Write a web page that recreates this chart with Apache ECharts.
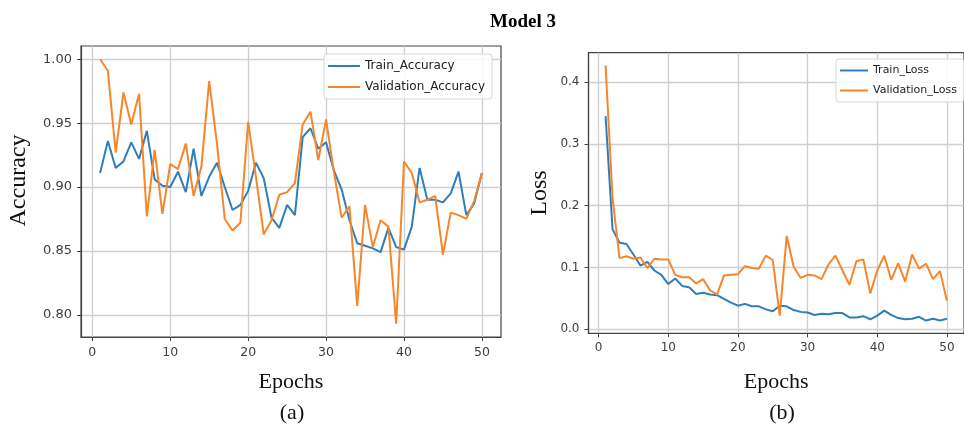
<!DOCTYPE html>
<html lang="en" style="height: 100%">
<head>
  <meta charset="utf-8">
</head>
<body style="height: 100%; margin: 0; background: #fff">
  <div id="container" style="width: 964px; height: 427px"></div>

  <script type="text/javascript" src="https://cdn.jsdelivr.net/npm/echarts@6/dist/echarts.min.js"></script>

  <script type="text/javascript">
    var dom = document.getElementById('container');
    var myChart = echarts.init(dom, null, { renderer: 'canvas' });

    const epochTicks = [0, 10, 20, 30, 40, 50];
    const accTicks = [0.8, 0.85, 0.9, 0.95, 1.0];
    const lossTicks = [0.0, 0.1, 0.2, 0.3, 0.4];

    const trainAcc = [0.911, 0.936, 0.915, 0.920, 0.935, 0.922, 0.944, 0.906, 0.901, 0.900,
      0.912, 0.896, 0.930, 0.893, 0.908, 0.919, 0.900, 0.882, 0.886, 0.897,
      0.919, 0.907, 0.876, 0.868, 0.886, 0.878, 0.939, 0.946, 0.930, 0.935,
      0.913, 0.898, 0.874, 0.856, 0.854, 0.852, 0.849, 0.868, 0.853, 0.851,
      0.869, 0.915, 0.890, 0.890, 0.888, 0.895, 0.912, 0.878, 0.887, 0.911];
    const valAcc = [1.000, 0.991, 0.927, 0.974, 0.949, 0.973, 0.877, 0.929, 0.879, 0.918,
      0.914, 0.934, 0.893, 0.916, 0.983, 0.934, 0.875, 0.866, 0.872, 0.951,
      0.908, 0.863, 0.874, 0.894, 0.896, 0.903, 0.949, 0.959, 0.921, 0.953,
      0.912, 0.876, 0.885, 0.807, 0.886, 0.853, 0.874, 0.869, 0.793, 0.920,
      0.911, 0.888, 0.890, 0.893, 0.847, 0.880, 0.878, 0.875, 0.889, 0.911];
    const trainLoss = [0.345, 0.162, 0.140, 0.138, 0.121, 0.103, 0.109, 0.095, 0.088, 0.073,
      0.082, 0.070, 0.068, 0.057, 0.059, 0.056, 0.055, 0.049, 0.043, 0.038,
      0.041, 0.037, 0.037, 0.032, 0.029, 0.038, 0.037, 0.031, 0.028, 0.027,
      0.023, 0.025, 0.024, 0.026, 0.026, 0.019, 0.019, 0.021, 0.016, 0.022,
      0.030, 0.023, 0.018, 0.016, 0.017, 0.020, 0.014, 0.017, 0.014, 0.017];
    const valLoss = [0.427, 0.213, 0.115, 0.118, 0.114, 0.116, 0.099, 0.114, 0.113, 0.113,
      0.088, 0.084, 0.084, 0.074, 0.081, 0.063, 0.056, 0.087, 0.088, 0.089,
      0.102, 0.099, 0.098, 0.119, 0.112, 0.022, 0.151, 0.101, 0.083, 0.088,
      0.087, 0.081, 0.105, 0.119, 0.095, 0.072, 0.110, 0.113, 0.058, 0.095,
      0.119, 0.080, 0.107, 0.077, 0.121, 0.098, 0.106, 0.081, 0.094, 0.046];

    const blue = '#2f7ebc';
    const orange = '#f7862b';
    const serif = 'Liberation Serif';

    function pairs(arr) {
      return arr.map(function (v, i) { return [i + 1, v]; });
    }

    function tickFont(size) {
      return { fontFamily: 'DejaVu Sans', fontSize: size, color: '#3d3d3d' };
    }

    function xAxisFor(gridIndex, gap, size) {
      return {
        type: 'value', gridIndex: gridIndex, min: -1.45, max: 52.45,
        name: 'Epochs', nameLocation: 'middle', nameGap: gap,
        nameTextStyle: { fontFamily: serif, fontSize: 22, color: '#111' },
        axisLine: { show: true, onZero: false, lineStyle: { color: '#444', width: 1.2 } },
        axisTick: { show: true, length: 4, customValues: epochTicks, lineStyle: { color: '#444' } },
        axisLabel: Object.assign({ customValues: epochTicks, margin: 9 }, tickFont(size)),
        splitLine: { show: true, lineStyle: { color: '#cfcfcf', width: 1.3 } }
      };
    }

    function yAxisFor(gridIndex, name, min, max, ticks, digits, gap, size, namePad) {
      return {
        type: 'value', gridIndex: gridIndex, min: min, max: max,
        name: name, nameLocation: 'middle', nameGap: gap,
        nameTextStyle: { fontFamily: serif, fontSize: 24, color: '#111', padding: namePad },
        axisLine: { show: true, onZero: false, lineStyle: { color: '#444', width: 1.2 } },
        axisTick: { show: true, length: 4, customValues: ticks, lineStyle: { color: '#444' } },
        axisLabel: Object.assign({
          customValues: ticks, margin: 9,
          formatter: function (v) { return v.toFixed(digits); }
        }, tickFont(size)),
        splitLine: { show: true, lineStyle: { color: '#cfcfcf', width: 1.3 } }
      };
    }

    function legendFor(left, top, names, itemWidth, fontSize) {
      return {
        left: left, top: top, orient: 'vertical', data: names,
        icon: 'rect', itemWidth: itemWidth, itemHeight: 2, itemGap: 9,
        padding: [6, 7, 6, 4],
        backgroundColor: 'rgba(255,255,255,0.85)',
        borderColor: '#d8d8d8', borderWidth: 1, borderRadius: 3,
        textStyle: { fontFamily: 'DejaVu Sans', fontSize: fontSize, color: '#222' }
      };
    }

    function line(name, data, color, xi, yi) {
      return {
        name: name, type: 'line', data: pairs(data),
        xAxisIndex: xi, yAxisIndex: yi,
        showSymbol: false, symbol: 'none',
        lineStyle: { color: color, width: 2 },
        itemStyle: { color: color },
        animation: false
      };
    }

    var option = {
      backgroundColor: '#fff',
      animation: false,
      title: [
        { text: 'Model 3', left: 518, top: 8, textAlign: 'center',
          textStyle: { fontFamily: serif, fontSize: 19, fontWeight: 'bold', color: '#000' } },
        { text: '(a)', left: 287, top: 397, textAlign: 'center',
          textStyle: { fontFamily: serif, fontSize: 22, fontWeight: 'normal', color: '#111' } },
        { text: '(b)', left: 777, top: 397, textAlign: 'center',
          textStyle: { fontFamily: serif, fontSize: 22, fontWeight: 'normal', color: '#111' } }
      ],
      grid: [
        { left: 81, top: 46, width: 420, height: 291, show: true, borderColor: '#444', borderWidth: 1.2, backgroundColor: 'transparent' },
        { left: 588.5, top: 52.7, width: 382, height: 280.6, show: true, borderColor: '#444', borderWidth: 1.2, backgroundColor: 'transparent' }
      ],
      legend: [
        legendFor(324, 54, ['Train_Accuracy', 'Validation_Accuracy'], 32, 12),
        legendFor(836, 59, ['Train_Loss', 'Validation_Loss'], 28, 11)
      ],
      xAxis: [xAxisFor(0, 34, 12.5), xAxisFor(1, 38, 12)],
      yAxis: [
        yAxisFor(0, 'Accuracy', 0.7826, 1.0104, accTicks, 2, 50, 13, [0, 0, 0, 22]),
        yAxisFor(1, 'Loss', -0.0067, 0.4477, lossTicks, 1, 37, 12, [0, 0, 0, 0])
      ],
      series: [
        line('Train_Accuracy', trainAcc, blue, 0, 0),
        line('Validation_Accuracy', valAcc, orange, 0, 0),
        line('Train_Loss', trainLoss, blue, 1, 1),
        line('Validation_Loss', valLoss, orange, 1, 1)
      ]
    };

    myChart.setOption(option);
    window.addEventListener('resize', myChart.resize);
  </script>
</body>
</html>
